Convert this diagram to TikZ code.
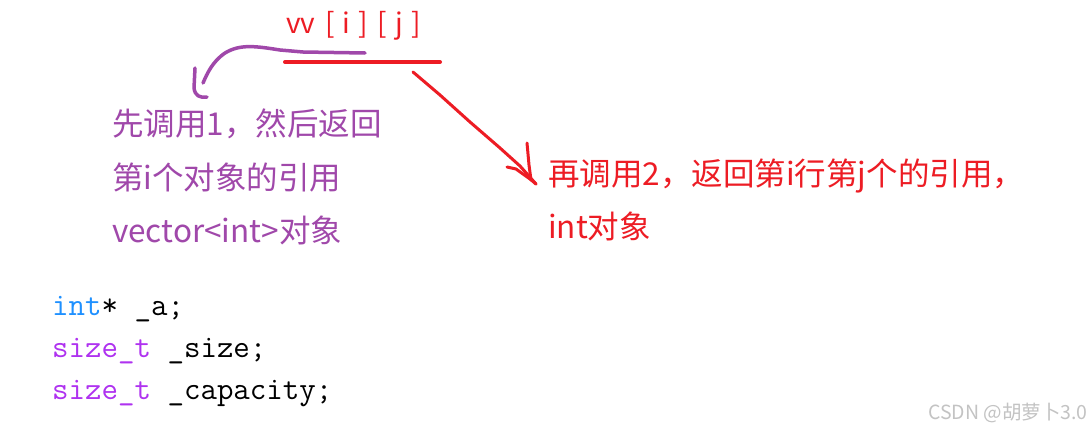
\documentclass[tikz,border=0pt]{standalone}
\usepackage{fontspec}
\newfontfamily\cjk{Noto Sans CJK SC}
\usetikzlibrary{positioning}
\definecolor{notered}{RGB}{237,28,36}
\definecolor{notepurple}{RGB}{160,72,170}
\definecolor{kwblue}{RGB}{30,144,255}
\definecolor{kwpurple}{RGB}{175,50,240}
\definecolor{markgray}{RGB}{195,195,195}
\begin{document}
\begin{tikzpicture}[
  x=1pt, y=-1pt,
  note/.style={anchor=base west, inner sep=0pt, font=\cjk\fontsize{31.5}{31.5}\selectfont},
  code/.style={anchor=base west, inner sep=0pt, font=\ttfamily\fontsize{32}{32}\selectfont},
  pen/.style={line width=3.5pt, line cap=round, line join=round}
]
  \useasboundingbox[fill=white] (0,0) rectangle (1091,431);

  % expression
  \node[note, text=notered, font=\cjk\fontsize{28}{28}\selectfont] (expr) at (286,33)
    {vv\hspace{10pt}[\hspace{8pt}i\hspace{8pt}]\hspace{10pt}[\hspace{8pt}j\hspace{8pt}]};
  \coordinate (ulA) at (285,62);
  \coordinate (ulB) at (440,62);
  \draw[pen, notered, line width=4pt] (ulA) -- (ulB);

  % first call
  \node[note, text=notepurple] (first1) at (112,135) {先调用1，然后返回};
  \node[note, text=notepurple] (first2) at ([yshift=-54pt]first1.base west) {第i个对象的引用};
  \node[note, text=notepurple] (first3) at ([yshift=-53pt]first2.base west) {vector<int>对象};

  % second call
  \node[note, text=notered] (second1) at (548,185) {再调用2，返回第i行第j个的引用，};
  \node[note, text=notered] (second2) at ([yshift=-53pt]second1.base west) {int对象};

  % hand-drawn arrows
  \coordinate (pA) at (365,53);
  \coordinate (pB) at (203,83);
  \draw[pen, notepurple] (pA) -- (303,52) -- (280,50) .. controls (255,46) and (240,44) .. (225,53)
    .. controls (212,62) and (207,74) .. (pB);
  \draw[pen, notepurple] (195,68) -- (194,88) .. controls (195,96) and (200,98) .. (207,97);

  \coordinate (rA) at (413,72);
  \coordinate (rB) at (536,184);
  \draw[pen, notered, line width=3pt] (rA) -- (440,95) -- (470,122) -- (500,148) -- (520,166) -- (rB);
  \draw[pen, notered, line width=3pt] (527,143) -- (529,165) -- (531,180);
  \draw[pen, notered, line width=3pt] (507,167) -- (516,169) -- (530,179) -- (rB);

  % members
  \node[code] (m1) at (52,315) {\textcolor{kwblue}{int}* \_a;};
  \node[code] (m2) at ([yshift=-42pt]m1.base west) {\textcolor{kwpurple}{size\_t} \_size;};
  \node[code] (m3) at ([yshift=-42pt]m2.base west) {\textcolor{kwpurple}{size\_t} \_capacity;};

  \node[anchor=base east, inner sep=0pt, text=markgray, font=\cjk\fontsize{19.5}{19.5}\selectfont] (mark) at (1088,419) {CSDN @胡萝卜3.0};
\end{tikzpicture}
\end{document}
